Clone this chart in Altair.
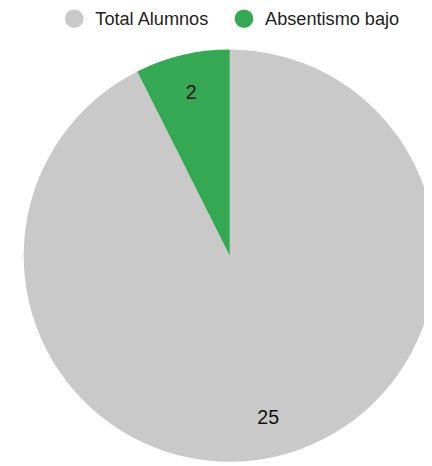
import altair as alt
import pandas as pd

categories = ["Total Alumnos", "Absentismo bajo"]
values = [25, 2]
colors = ["#c9c9c9", "#34a853"]

df = pd.DataFrame({"cat": categories, "val": values, "ord": [0, 1]})

cx, cy, R = 226, 248, 210

base = alt.Chart(df).encode(
    theta=alt.Theta("val:Q", stack=True),
    order=alt.Order("ord:Q"),
    x=alt.value(cx),
    y=alt.value(cy),
)

arc = base.mark_arc(outerRadius=R).encode(
    color=alt.Color(
        "cat:N",
        scale=alt.Scale(domain=categories, range=colors),
        legend=alt.Legend(
            title=None,
            orient="none",
            direction="horizontal",
            legendX=58,
            legendY=-3,
            symbolType="circle",
            symbolSize=361,
            symbolOpacity=1,
            labelFontSize=18.5,
            labelFont="Liberation Sans",
            labelColor="#222222",
            labelOffset=12,
            columnPadding=25,
            symbolStrokeWidth=0,
        ),
    )
)

text = base.mark_text(radius=170, fontSize=20, font="Liberation Sans", color="#111111").encode(
    text="val:Q"
)

chart = (arc + text).properties(
    width=424, height=458, padding=0, autosize=alt.AutoSizeParams(type="none")
).configure_view(stroke=None)

chart.save("out.html", embed_options={"renderer": "svg", "actions": False})
